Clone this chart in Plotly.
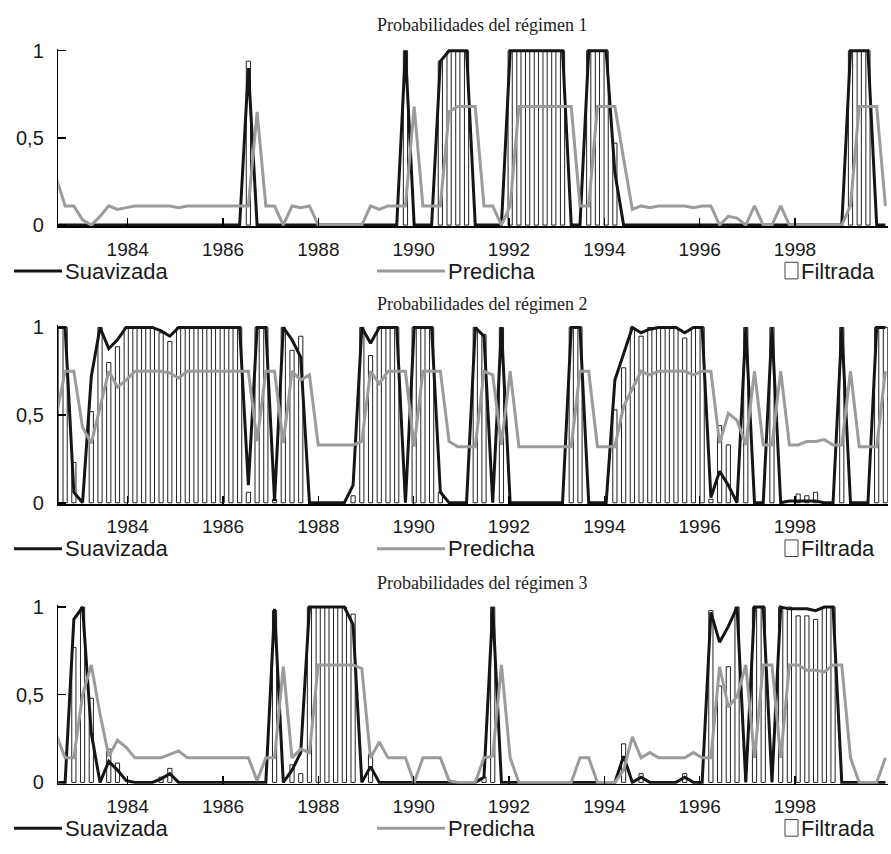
import plotly.graph_objects as go

# ---------------- data ----------------
start_year = 1982.504
periods_per_year = 5.462
n_periods = 96
dates = [start_year + i / periods_per_year for i in range(n_periods)]

year_ticks = [1984, 1986, 1988, 1990, 1992, 1994, 1996, 1998]
y_tick_vals = [0, 0.5, 1]
y_tick_text = ["0", "0,5", "1"]
panel_titles = ["Probabilidades del régimen 1",
                "Probabilidades del régimen 2",
                "Probabilidades del régimen 3"]
legend_labels = ["Suavizada", "Predicha", "Filtrada"]

# Regime 1
suav_1 = [0, 0, 0, 0, 0, 0, 0, 0, 0, 0,
          0, 0, 0, 0, 0, 0, 0, 0, 0, 0,
          0, 0, 0.9, 0, 0, 0, 0, 0, 0, 0,
          0, 0, 0, 0, 0, 0, 0, 0, 0, 0,
          1.0, 0, 0, 0, 0.94, 1.0, 1.0, 1.0, 0, 0,
          0, 0, 1.0, 1.0, 1.0, 1.0, 1.0, 1.0, 1.0, 0,
          0, 1.0, 1.0, 1.0, 0.3, 0, 0, 0, 0, 0,
          0, 0, 0, 0, 0, 0, 0, 0, 0, 0,
          0, 0, 0, 0, 0, 0, 0, 0, 0, 0,
          0, 1.0, 1.0, 1.0, 0, 0]
pred_1 = [0.27, 0.11, 0.11, 0.03, 0.0, 0.05, 0.11, 0.09, 0.10, 0.11,
          0.11, 0.11, 0.11, 0.11, 0.10, 0.11, 0.11, 0.11, 0.11, 0.11,
          0.11, 0.11, 0.11, 0.65, 0.11, 0.11, 0.0, 0.11, 0.10, 0.11,
          0.0, 0.0, 0.0, 0.0, 0.0, 0.0, 0.11, 0.09, 0.11, 0.11,
          0.11, 0.68, 0.11, 0.11, 0.11, 0.65, 0.68, 0.68, 0.68, 0.11,
          0.11, 0.0, 0.11, 0.68, 0.68, 0.68, 0.68, 0.68, 0.68, 0.68,
          0.11, 0.11, 0.68, 0.68, 0.68, 0.38, 0.09, 0.11, 0.10, 0.11,
          0.11, 0.11, 0.11, 0.10, 0.11, 0.11, 0.0, 0.05, 0.04, 0.0,
          0.11, 0.0, 0.0, 0.11, 0.0, 0.0, 0.0, 0.0, 0.0, 0.0,
          0.0, 0.11, 0.68, 0.68, 0.68, 0.11]
filt_1 = [0, 0, 0, 0, 0, 0, 0, 0, 0, 0,
          0, 0, 0, 0, 0, 0, 0, 0, 0, 0,
          0, 0, 0.94, 0, 0, 0, 0, 0, 0, 0,
          0, 0, 0, 0, 0, 0, 0, 0, 0, 0,
          1.0, 0, 0, 0, 0.94, 1.0, 1.0, 1.0, 0, 0,
          0, 0, 1.0, 1.0, 1.0, 1.0, 1.0, 1.0, 1.0, 0,
          0, 1.0, 1.0, 1.0, 0.47, 0, 0, 0, 0, 0,
          0, 0, 0, 0, 0, 0, 0, 0, 0, 0,
          0, 0, 0, 0, 0, 0, 0, 0, 0, 0,
          0, 1.0, 1.0, 1.0, 0, 0]

# Regime 2
suav_2 = [1.0, 1.0, 0.06, 0.0, 0.72, 1.0, 0.88, 0.93, 1.0, 1.0,
          1.0, 1.0, 0.98, 0.95, 1.0, 1.0, 1.0, 1.0, 1.0, 1.0,
          1.0, 1.0, 0.1, 1.0, 1.0, 0.01, 1.0, 0.93, 0.83, 0.0,
          0, 0, 0, 0, 0.1, 1.0, 0.91, 1.0, 1.0, 1.0,
          0, 1.0, 1.0, 1.0, 0.06, 0, 0, 0, 1.0, 0.95,
          0, 1.0, 0, 0, 0, 0, 0, 0, 0, 1.0,
          1.0, 0, 0, 0, 0.7, 0.85, 1.0, 0.97, 0.99, 1.0,
          1.0, 1.0, 0.97, 1.0, 1.0, 0.03, 0.18, 0.1, 0.0, 1.0,
          0, 0, 1.0, 0, 0.01, 0.01, 0.01, 0.01, 0.0, 0.0,
          1.0, 0, 0, 0, 1.0, 1.0]
pred_2 = [0.5, 0.75, 0.75, 0.43, 0.34, 0.55, 0.75, 0.66, 0.70, 0.75,
          0.75, 0.75, 0.75, 0.74, 0.71, 0.75, 0.75, 0.75, 0.75, 0.75,
          0.75, 0.75, 0.75, 0.35, 0.75, 0.75, 0.34, 0.75, 0.70, 0.73,
          0.33, 0.33, 0.33, 0.33, 0.33, 0.35, 0.75, 0.68, 0.75, 0.75,
          0.75, 0.32, 0.75, 0.75, 0.75, 0.35, 0.32, 0.32, 0.32, 0.75,
          0.73, 0.33, 0.75, 0.32, 0.32, 0.32, 0.32, 0.32, 0.32, 0.32,
          0.75, 0.75, 0.32, 0.32, 0.32, 0.55, 0.65, 0.75, 0.73, 0.75,
          0.75, 0.75, 0.75, 0.73, 0.75, 0.75, 0.34, 0.51, 0.47, 0.33,
          0.75, 0.33, 0.33, 0.75, 0.33, 0.33, 0.35, 0.35, 0.36, 0.33,
          0.33, 0.75, 0.32, 0.32, 0.32, 0.75]
filt_2 = [1.0, 1.0, 0.23, 0, 0.52, 1.0, 0.80, 0.89, 1.0, 1.0,
          1.0, 1.0, 0.97, 0.92, 1.0, 1.0, 1.0, 1.0, 1.0, 1.0,
          1.0, 1.0, 0.06, 1.0, 1.0, 0.02, 1.0, 0.87, 0.95, 0,
          0, 0, 0, 0, 0.04, 1.0, 0.84, 1.0, 1.0, 1.0,
          0, 1.0, 1.0, 1.0, 0.06, 0, 0, 0, 1.0, 0.96,
          0, 1.0, 0, 0, 0, 0, 0, 0, 0, 1.0,
          1.0, 0, 0, 0, 0.53, 0.77, 1.0, 0.95, 1.0, 1.0,
          1.0, 1.0, 0.94, 1.0, 1.0, 0.02, 0.44, 0.33, 0, 1.0,
          0, 0, 1.0, 0, 0, 0.05, 0.04, 0.06, 0, 0,
          1.0, 0, 0, 0, 1.0, 1.0]

# Regime 3
suav_3 = [0, 0, 0.93, 1.0, 0.28, 0, 0.12, 0.07, 0.01, 0,
          0, 0, 0.02, 0.05, 0, 0, 0, 0, 0, 0,
          0, 0, 0, 0, 0, 0.99, 0, 0.07, 0.17, 1.0,
          1.0, 1.0, 1.0, 1.0, 0.9, 0, 0.09, 0, 0, 0,
          0, 0, 0, 0, 0, 0, 0, 0, 0, 0.03,
          1.0, 0, 0, 0, 0, 0, 0, 0, 0, 0,
          0, 0, 0, 0, 0, 0.15, 0, 0.03, 0, 0,
          0, 0, 0.03, 0, 0, 0.97, 0.8, 0.89, 1.0, 0,
          1.0, 1.0, 0, 1.0, 0.99, 0.99, 0.99, 0.98, 1.0, 1.0,
          0, 0, 0, 0, 0, 0]
pred_3 = [0.27, 0.14, 0.14, 0.50, 0.67, 0.39, 0.15, 0.24, 0.20, 0.14,
          0.14, 0.14, 0.14, 0.16, 0.18, 0.14, 0.14, 0.14, 0.14, 0.14,
          0.14, 0.14, 0.14, 0.01, 0.14, 0.14, 0.66, 0.14, 0.19, 0.17,
          0.67, 0.67, 0.67, 0.67, 0.67, 0.65, 0.14, 0.23, 0.14, 0.14,
          0.14, 0.0, 0.14, 0.14, 0.14, 0.01, 0.0, 0.0, 0.0, 0.14,
          0.15, 0.67, 0.14, 0.0, 0.0, 0.0, 0.0, 0.0, 0.0, 0.0,
          0.14, 0.14, 0.0, 0.0, 0.0, 0.07, 0.26, 0.14, 0.17, 0.14,
          0.14, 0.14, 0.14, 0.17, 0.14, 0.14, 0.66, 0.43, 0.49, 0.67,
          0.14, 0.67, 0.67, 0.14, 0.67, 0.67, 0.64, 0.64, 0.63, 0.67,
          0.67, 0.14, 0.0, 0.0, 0.0, 0.14]
filt_3 = [0, 0, 0.77, 1.0, 0.48, 0, 0.19, 0.11, 0, 0,
          0, 0, 0.03, 0.08, 0, 0, 0, 0, 0, 0,
          0, 0, 0, 0, 0, 0.98, 0, 0.1, 0.05, 1.0,
          1.0, 1.0, 1.0, 1.0, 0.96, 0, 0.16, 0, 0, 0,
          0, 0, 0, 0, 0, 0, 0, 0, 0, 0.03,
          1.0, 0, 0, 0, 0, 0, 0, 0, 0, 0,
          0, 0, 0, 0, 0, 0.22, 0, 0.05, 0, 0,
          0, 0, 0.05, 0, 0, 0.98, 0.55, 0.66, 1.0, 0,
          1.0, 1.0, 0, 1.0, 1.0, 0.95, 0.95, 0.93, 1.0, 1.0,
          0, 0, 0, 0, 0, 0]

panels = [(suav_1, pred_1, filt_1), (suav_2, pred_2, filt_2), (suav_3, pred_3, filt_3)]

# ---------------- layout / style ----------------
W, H = 891, 854
plot_left, plot_right = 58.3, 887.7
x_range = [1982.544, 1999.945]
panel_px = [(42.7, 221.0), (325.7, 505.0), (611.7, 791.0)]  # pixel y of value 1 and of value 0
y_lo, y_hi = -0.008, 1.012
title_y_px = [16.8, 302.0, 587.0]
title_x_px = 481.5
legend_offset_px = 47

sans = "Liberation Sans, Arial, Helvetica, sans-serif"
serif = "Liberation Serif, Times New Roman, serif"
black = "#151515"
gray = "#9b9b9b"
bar_width_years = 0.088

fig = go.Figure()
layout_axes = {}
shapes = []
annotations = []

for k, (suav, pred, filt) in enumerate(panels):
    xa = "x" if k == 0 else f"x{k+1}"
    ya = "y" if k == 0 else f"y{k+1}"
    fig.add_trace(go.Scatter(x=dates, y=suav, mode="lines", name=legend_labels[0],
                             line=dict(color=black, width=3), showlegend=False,
                             xaxis=xa, yaxis=ya))
    fig.add_trace(go.Scatter(x=dates, y=pred, mode="lines", name=legend_labels[1],
                             line=dict(color=gray, width=3), showlegend=False,
                             xaxis=xa, yaxis=ya))
    fig.add_trace(go.Bar(x=dates, y=[v if v > 0 else None for v in filt], name=legend_labels[2],
                         width=bar_width_years,
                         marker=dict(color="white", line=dict(color="#222222", width=1)),
                         showlegend=False, xaxis=xa, yaxis=ya))

    top1, bot0 = panel_px[k]
    span = bot0 - top1
    px_top = top1 - (y_hi - 1) * span
    px_bot = bot0 + (0 - y_lo) * span
    ydom = [1 - px_bot / H, 1 - px_top / H]
    xdom = [plot_left / W, plot_right / W]

    xkey = "xaxis" if k == 0 else f"xaxis{k+1}"
    ykey = "yaxis" if k == 0 else f"yaxis{k+1}"
    layout_axes[xkey] = dict(domain=xdom, range=x_range, anchor=ya,
                             showline=True, linecolor="black", linewidth=1.5,
                             ticks="inside", ticklen=8, tickwidth=1.5, tickcolor="black",
                             tickvals=year_ticks, ticktext=[str(t) for t in year_ticks],
                             tickfont=dict(family=sans, size=19, color="#1a1a1a"),
                             ticklabelstandoff=5,
                             showgrid=False, zeroline=False, fixedrange=True)
    layout_axes[ykey] = dict(domain=ydom, range=[y_lo, y_hi], anchor=xa,
                             showline=True, linecolor="black", linewidth=1.5,
                             ticks="inside", ticklen=8, tickwidth=1.5, tickcolor="black",
                             tickvals=y_tick_vals, ticktext=y_tick_text,
                             tickfont=dict(family=sans, size=20, color="#1a1a1a"),
                             ticklabelstandoff=9,
                             showgrid=False, zeroline=False, fixedrange=True)

    # panel title
    annotations.append(dict(text=panel_titles[k], xref="paper", yref="paper",
                            x=title_x_px / W, y=1 - title_y_px[k] / H,
                            xanchor="center", yanchor="middle", showarrow=False,
                            font=dict(family=serif, size=18, color="#222222")))

    # legend row
    ly = bot0 + legend_offset_px
    lyp = 1 - ly / H
    shapes.append(dict(type="line", xref="paper", yref="paper",
                       x0=14 / W, x1=62 / W, y0=lyp, y1=lyp,
                       line=dict(color=black, width=3)))
    annotations.append(dict(text=legend_labels[0], xref="paper", yref="paper",
                            x=63 / W, y=lyp, xanchor="left", yanchor="middle",
                            showarrow=False, font=dict(family=sans, size=22, color="#1a1a1a")))
    shapes.append(dict(type="line", xref="paper", yref="paper",
                       x0=377 / W, x1=445 / W, y0=lyp, y1=lyp,
                       line=dict(color=gray, width=3)))
    annotations.append(dict(text=legend_labels[1], xref="paper", yref="paper",
                            x=446 / W, y=lyp, xanchor="left", yanchor="middle",
                            showarrow=False, font=dict(family=sans, size=22, color="#1a1a1a")))
    shapes.append(dict(type="rect", xref="paper", yref="paper",
                       x0=785 / W, x1=798 / W, y0=1 - (ly + 8) / H, y1=1 - (ly - 9) / H,
                       fillcolor="white", line=dict(color="#444444", width=1)))
    annotations.append(dict(text=legend_labels[2], xref="paper", yref="paper",
                            x=799 / W, y=lyp, xanchor="left", yanchor="middle",
                            showarrow=False, font=dict(family=sans, size=22, color="#1a1a1a")))

fig.update_layout(width=W, height=H, autosize=False,
                  margin=dict(l=0, r=0, t=0, b=0),
                  paper_bgcolor="white", plot_bgcolor="white",
                  showlegend=False, bargap=0,
                  shapes=shapes, annotations=annotations, **layout_axes)

page_fix = ("document.documentElement.style.margin='0';"
            "document.body.style.margin='0';"
            "document.body.style.padding='0';"
            "document.documentElement.style.overflow='hidden';"
            "document.body.style.overflow='hidden';")
fig.write_html("out.html", post_script=page_fix,
               config={"displayModeBar": False, "staticPlot": True})
